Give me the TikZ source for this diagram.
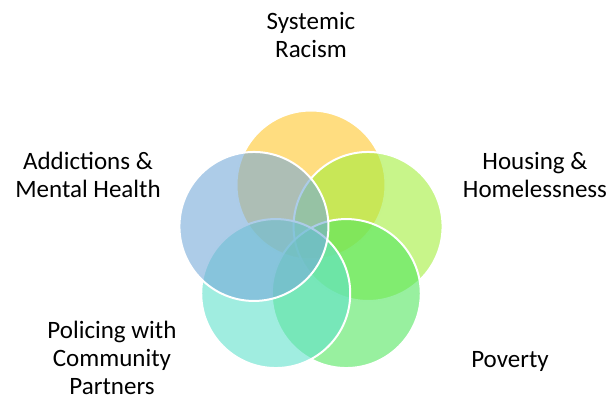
\documentclass[tikz,border=0pt]{standalone}
\usepackage{fontspec}
\setmainfont{Carlito}
\usetikzlibrary{calc}
\begin{document}
\begin{tikzpicture}[x=1pt,y=-1pt,
  petal/.style={circle, minimum size=149pt, inner sep=0pt, draw=white, line width=2pt, fill opacity=0.6},
  lbl/.style={font=\fontsize{25pt}{28pt}\selectfont, align=center, inner sep=0pt, anchor=base, text=black}]
\useasboundingbox (0,0) rectangle (611,400);
\definecolor{cyel}{RGB}{255,198,43}
\definecolor{chou}{RGB}{163,238,60}
\definecolor{cpov}{RGB}{83,230,95}
\definecolor{cpol}{RGB}{97,225,203}
\definecolor{cadd}{RGB}{118,170,217}
\coordinate (ctr) at (311,245);
\node[petal, fill=cyel] (racism) at ($(ctr)+(-90:60)$) {};
\node[petal, fill=chou] (housing) at ($(ctr)+(-18:60)$) {};
\node[petal, fill=cpov] (poverty) at ($(ctr)+(54:60)$) {};
\node[petal, fill=cpol] (policing) at ($(ctr)+(126:60)$) {};
\node[petal, fill=cadd] (addictions) at ($(ctr)+(198:60)$) {};
\node[lbl] (tracism) at (311,57) {Systemic\\Racism};
\node[lbl] (taddictions) at (88,197) {Addictions \&\\Mental Health};
\node[lbl] (thousing) at (535,197) {Housing \&\\Homelessness};
\node[lbl] (tpolicing) at (112,394) {Policing with\\Community\\Partners};
\node[lbl] (tpoverty) at (510,367) {Poverty};
\end{tikzpicture}
\end{document}
